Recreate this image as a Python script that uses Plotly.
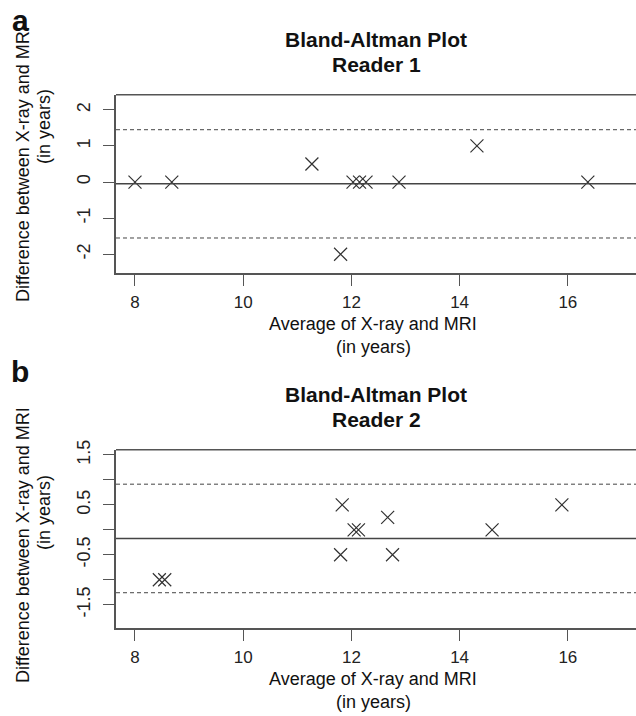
import plotly.graph_objects as go

# ---- Data: Reader 1 ----
r1_avg = [8.0, 8.68, 11.27, 11.80, 12.03, 12.15, 12.27, 12.88, 14.32, 16.37]
r1_diff = [0.0, 0.0, 0.5, -2.0, 0.0, 0.0, 0.0, 0.0, 1.0, 0.0]
r1_mean, r1_upper, r1_lower = -0.05, 1.45, -1.55

# ---- Data: Reader 2 ----
r2_avg = [8.45, 8.55, 11.83, 11.80, 12.05, 12.13, 12.67, 12.76, 14.60, 15.89]
r2_diff = [-1.0, -1.0, 0.5, -0.5, 0.0, 0.0, 0.25, -0.5, 0.0, 0.5]
r2_mean, r2_upper, r2_lower = -0.175, 0.915, -1.26

x_ticks = [8, 10, 12, 14, 16]
x_ticklabels = ["8", "10", "12", "14", "16"]
y1_ticks = [-2, -1, 0, 1, 2]
y1_ticklabels = ["-2", "-1", "0", "1", "2"]
y2_ticks = [-1.5, -1.0, -0.5, 0.0, 0.5, 1.0, 1.5]
y2_ticklabels = ["-1.5", "", "-0.5", "", "0.5", "", "1.5"]

W, H = 636, 716
FONT = "Liberation Sans, Arial, Helvetica, sans-serif"
AXC = "#555555"
INK = "#222222"
MK = "#333333"


def py(pix):
    return 1 - pix / H


def px(pix):
    return pix / W


fig = go.Figure()

for xs, ys, xa, ya in [(r1_avg, r1_diff, "x", "y"), (r2_avg, r2_diff, "x2", "y2")]:
    fig.add_trace(go.Scatter(x=xs, y=ys, mode="markers", xaxis=xa, yaxis=ya,
                             marker=dict(symbol="x-thin-open", size=13, color=MK,
                                         line=dict(width=1.2, color=MK)),
                             showlegend=False, hoverinfo="skip"))

common_x = dict(tickvals=x_ticks, ticktext=x_ticklabels, ticks="outside", ticklen=11,
                tickwidth=1, tickcolor=AXC, showline=True, linecolor=AXC, linewidth=1.5,
                showgrid=False, zeroline=False, automargin=False, ticklabelstandoff=2,
                tickfont=dict(family=FONT, size=17, color=INK))
common_y = dict(ticks="outside", ticklen=11, tickwidth=1, tickcolor=AXC, showline=True,
                linecolor=AXC, linewidth=1.5, showgrid=False, zeroline=False, tickangle=-90,
                automargin=False, ticklabelstandoff=6,
                tickfont=dict(family=FONT, size=18, color=INK))

x0, x1 = px(116), 1.0
fig.update_layout(
    width=W, height=H, margin=dict(l=0, r=0, t=0, b=0, autoexpand=False),
    paper_bgcolor="white", plot_bgcolor="white",
    xaxis=dict(domain=[x0, x1], range=[7.649, 17.26], anchor="y", **common_x),
    yaxis=dict(domain=[py(273), py(94.7)], range=[-2.52, 2.42], anchor="x",
               tickvals=y1_ticks, ticktext=y1_ticklabels, **common_y),
    xaxis2=dict(domain=[x0, x1], range=[7.649, 17.26], anchor="y2", **common_x),
    yaxis2=dict(domain=[py(628.3), py(449.7)], range=[-1.973, 1.606], anchor="x2",
                tickvals=y2_ticks, ticktext=y2_ticklabels, **common_y),
)

shapes = []
for xr, yr, m, u, l in [("x", "y", r1_mean, r1_upper, r1_lower),
                        ("x2", "y2", r2_mean, r2_upper, r2_lower)]:
    shapes.append(dict(type="line", xref=xr + " domain", yref=yr + " domain",
                       x0=0, x1=1, y0=1, y1=1, line=dict(color=AXC, width=1.5)))
    shapes.append(dict(type="line", xref=xr + " domain", yref=yr, x0=0, x1=1, y0=m, y1=m,
                       line=dict(color="#444444", width=1.5)))
    for v in (u, l):
        shapes.append(dict(type="line", xref=xr + " domain", yref=yr, x0=0, x1=1, y0=v, y1=v,
                           line=dict(color="#444444", width=1, dash="4px,3px")))
fig.update_layout(shapes=shapes)

ann = []


def text(xp, yp, s, size, angle=0):
    ann.append(dict(x=px(xp), y=py(yp), xref="paper", yref="paper", text=s,
                    showarrow=False, textangle=angle, xanchor="center", yanchor="middle",
                    font=dict(family=FONT, size=size, color="#111111")))


for off, reader in [(0, "Reader 1"), (355, "Reader 2")]:
    text(376, 39 + off, "<b>Bland-Altman Plot</b>", 21)
    text(376, 64 + off, "<b>" + reader + "</b>", 21)
    text(373, 324 + off, "Average of X-ray and MRI", 18)
    text(373, 347 + off, "(in years)", 18)

text(23, 164, "Difference between X-ray and MRI", 18, angle=-90)
text(44, 127, "(in years)", 18, angle=-90)
text(23, 545, "Difference between X-ray and MRI", 18, angle=-90)
text(44, 513, "(in years)", 18, angle=-90)

text(20, 20, "<b>a</b>", 30)
text(20, 372, "<b>b</b>", 30)

fig.update_layout(annotations=ann)

fig.write_html("out.html", config={"displayModeBar": False},
               post_script="document.body.style.margin='0px';document.body.style.padding='0px';")
